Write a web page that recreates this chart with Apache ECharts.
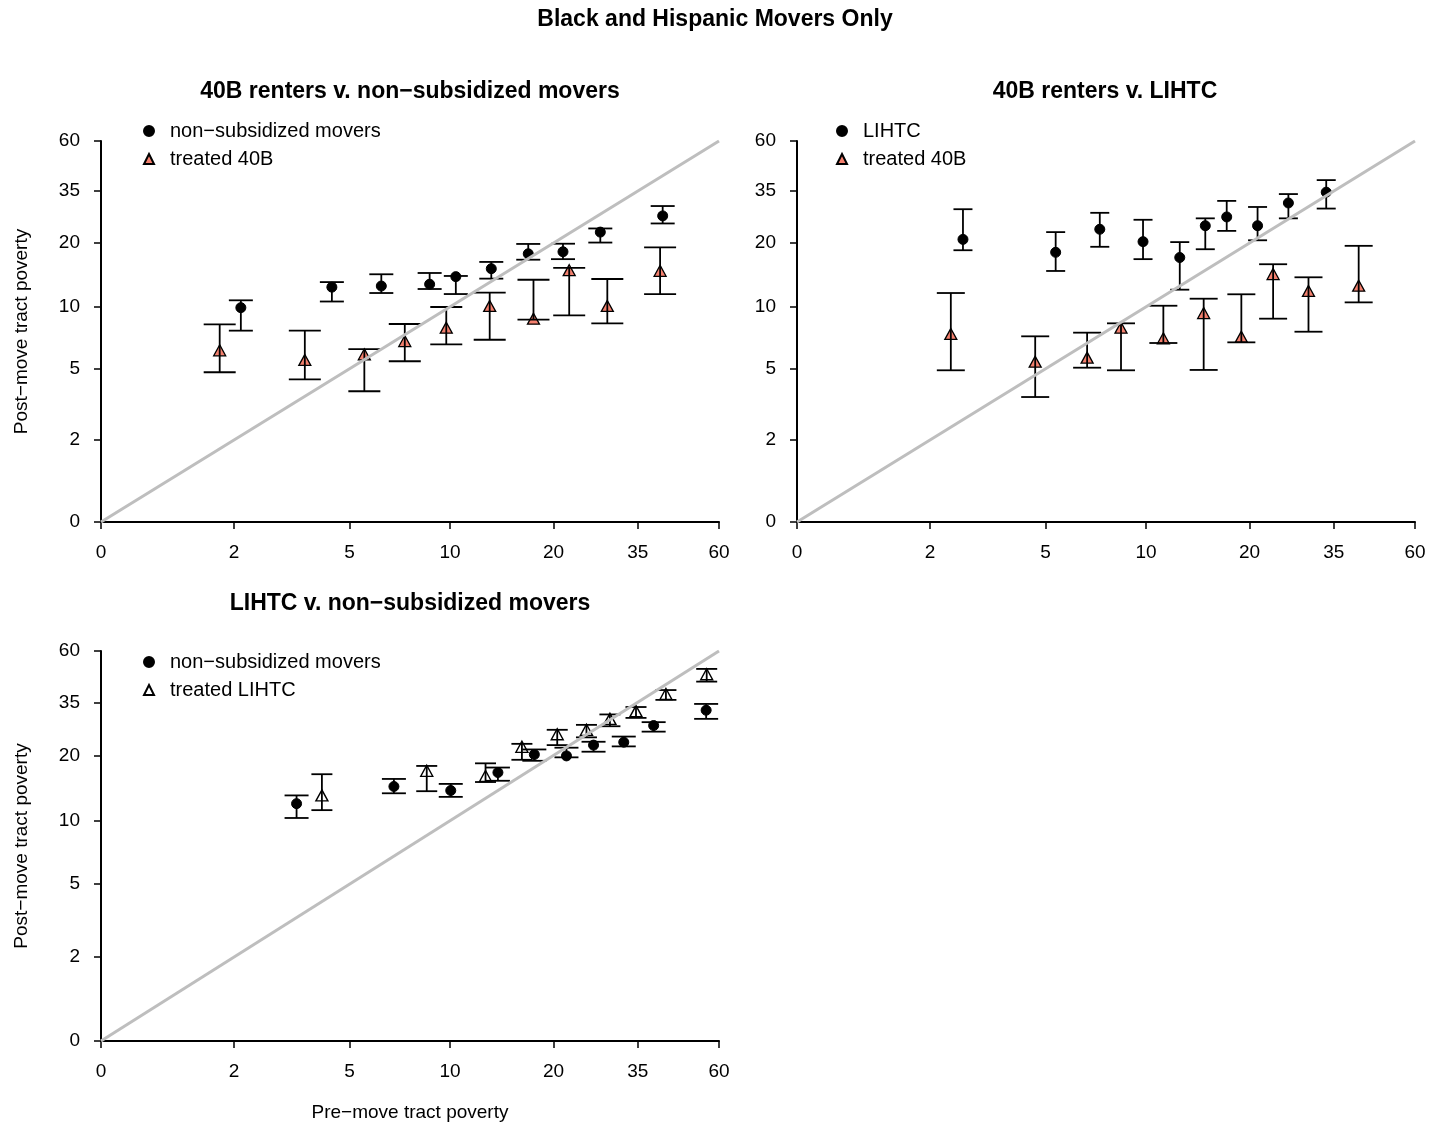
<!DOCTYPE html>
<html><head><meta charset="utf-8">
<script src="https://cdn.jsdelivr.net/npm/echarts@6/dist/echarts.min.js"></script>
<style>html,body{margin:0;padding:0;background:#fff}#c{width:1430px;height:1127px}</style>
</head><body><div id="c"></div>
<script>
// ---- tick labels (axis uses an asinh(x/2) scale) ----
const tickValues = [0, 2, 5, 10, 20, 35, 60];

// ---- Panel 1: 40B renters v. non-subsidized movers ----
const p1NonsubX  = [2.13, 4.40, 6.25, 8.71, 10.4, 13.2, 16.9, 21.3, 27.3, 41.3];
const p1NonsubY  = [9.91, 12.4, 12.55, 12.8, 13.9, 15.15, 17.8, 18.2, 22.5, 26.8];
const p1NonsubLo = [7.69, 10.6, 11.63, 12.15, 11.5, 13.6, 16.7, 16.8, 20.1, 24.7];
const p1NonsubHi = [10.74, 13.1, 14.26, 14.46, 14.0, 16.3, 19.8, 19.85, 23.4, 29.8];

const p1TreatX  = [1.74, 3.6, 5.55, 7.35, 9.75, 13.06, 17.5, 22.2, 28.6, 40.6];
const p1TreatY  = [6.17, 5.53, 5.9, 6.85, 7.95, 10.1, 8.78, 14.9, 10.1, 14.8];
const p1TreatLo = [4.80, 4.42, 3.83, 5.45, 6.60, 6.95, 8.68, 9.11, 8.34, 11.5];
const p1TreatHi = [8.25, 7.69, 6.26, 8.28, 9.98, 11.67, 13.44, 15.3, 13.55, 19.1];

// ---- Panel 2: 40B renters v. LIHTC ----
const p2LihtcX  = [2.67, 5.37, 7.30, 9.80, 12.55, 14.89, 17.18, 21.1, 25.9, 33.3];
const p2LihtcY  = [20.8, 18.09, 23.2, 20.3, 17.1, 24.1, 26.5, 24.1, 30.8, 34.6];
const p2LihtcLo = [18.5, 14.78, 19.2, 16.8, 12.06, 18.7, 22.8, 20.6, 26.1, 29.0];
const p2LihtcHi = [28.8, 22.5, 27.7, 25.7, 20.2, 26.1, 31.5, 29.5, 33.9, 39.4];

const p2TreatX  = [2.41, 4.64, 6.69, 8.44, 11.24, 14.73, 18.94, 23.4, 29.6, 41.3];
const p2TreatY  = [7.41, 5.42, 5.68, 7.95, 7.06, 9.34, 7.19, 14.3, 11.89, 12.6];
const p2TreatLo = [4.91, 3.57, 5.06, 4.91, 6.70, 4.93, 6.75, 8.78, 7.60, 10.5];
const p2TreatHi = [11.63, 7.22, 7.52, 8.34, 10.12, 10.93, 11.47, 15.9, 13.8, 19.4];

// ---- Panel 3: LIHTC v. non-subsidized movers ----
const p3NonsubX  = [3.38, 6.82, 10.05, 13.8, 17.6, 21.8, 26.1, 31.9, 38.9, 55.1];
const p3NonsubY  = [12.0, 14.4, 13.8, 16.7, 20.2, 19.9, 22.3, 23.0, 27.4, 32.2];
const p3NonsubLo = [10.3, 13.4, 12.9, 15.3, 18.9, 19.6, 20.8, 22.0, 25.7, 29.4];
const p3NonsubHi = [13.1, 15.6, 14.8, 17.6, 21.3, 21.7, 23.1, 24.4, 28.4, 34.4];

const p3TreatX  = [4.09, 8.54, 12.7, 16.2, 20.5, 24.9, 29.1, 34.6, 42.2, 55.3];
const p3TreatY  = [13.1, 17.0, 16.1, 21.9, 25.0, 26.2, 29.4, 31.9, 38.2, 47.0];
const p3TreatLo = [11.2, 13.7, 15.1, 19.1, 22.3, 24.2, 27.2, 29.7, 35.9, 43.5];
const p3TreatHi = [16.4, 17.9, 18.4, 22.6, 26.2, 27.6, 30.8, 33.3, 39.8, 49.7];

const diagEnds = [0, 60];

// ---- build ----
const T = v => Math.asinh(v / 2);
const tickPos = tickValues.map(T);
const fmt = v => { let best = 0; tickPos.forEach((p, i) => { if (Math.abs(p - v) < Math.abs(tickPos[best] - v)) best = i; }); return String(tickValues[best]); };
const FONT = '"Liberation Sans", Arial, Helvetica, sans-serif';

function pts(xs, ys) { return xs.map((x, i) => [T(x), T(ys[i])]); }
function errs(xs, lo, hi) { return xs.map((x, i) => [T(x), T(lo[i]), T(hi[i])]); }

function errRender(cap) {
  return function (params, api) {
    const x = api.value(0), lo = api.value(1), hi = api.value(2);
    const a = api.coord([x, lo]), b = api.coord([x, hi]);
    const h = cap / 2;
    const style = { stroke: '#000', lineWidth: 1.8 };
    return { type: 'group', children: [
      { type: 'line', shape: { x1: a[0], y1: a[1], x2: b[0], y2: b[1] }, style },
      { type: 'line', shape: { x1: a[0] - h, y1: a[1], x2: a[0] + h, y2: a[1] }, style },
      { type: 'line', shape: { x1: b[0] - h, y1: b[1], x2: b[0] + h, y2: b[1] }, style }
    ]};
  };
}

function axisCfg(gi, name, gap) {
  return {
    type: 'value', gridIndex: gi, min: 0, max: T(60),
    name: name || '', nameLocation: 'middle', nameGap: gap || 0,
    nameTextStyle: { fontFamily: FONT, fontSize: 19, color: '#000' },
    axisLine: { show: true, onZero: false, lineStyle: { color: '#000', width: 2 } },
    axisTick: { show: true, customValues: tickPos, length: 7, lineStyle: { color: '#000', width: 1.5 } },
    axisLabel: { show: true, customValues: tickPos, formatter: fmt, color: '#000', fontSize: 19, fontFamily: FONT, margin: 21 },
    splitLine: { show: false }
  };
}

const grids = [
  { left: 101, top: 141, width: 618, height: 381 },
  { left: 797, top: 141, width: 618, height: 381 },
  { left: 101, top: 651, width: 618, height: 390 }
];

const circleStyle = { color: '#000', borderColor: '#000', borderWidth: 1, opacity: 1 };
const triStyle = { color: '#F4806E', borderColor: '#000', borderWidth: 1.3, opacity: 1 };
const hollowStyle = { color: 'rgba(255,255,255,0)', borderColor: '#000', borderWidth: 1.4, opacity: 1 };

function panelSeries(gi, aName, aX, aY, aLo, aHi, aCap, aStyle, aSym, aSize,
                         bName, bX, bY, bLo, bHi, bCap, bStyle, bSym, bSize) {
  return [
    { type: 'scatter', name: aName, xAxisIndex: gi, yAxisIndex: gi, data: pts(aX, aY), symbol: aSym, symbolSize: aSize, itemStyle: aStyle, z: 3, silent: true },
    { type: 'scatter', name: bName, xAxisIndex: gi, yAxisIndex: gi, data: pts(bX, bY), symbol: bSym, symbolSize: bSize, itemStyle: bStyle, z: 3, silent: true },
    { type: 'custom', xAxisIndex: gi, yAxisIndex: gi, data: errs(aX, aLo, aHi), renderItem: errRender(aCap), encode: { x: 0, y: [1, 2] }, z: 4, silent: true },
    { type: 'custom', xAxisIndex: gi, yAxisIndex: gi, data: errs(bX, bLo, bHi), renderItem: errRender(bCap), encode: { x: 0, y: [1, 2] }, z: 4, silent: true },
    { type: 'line', xAxisIndex: gi, yAxisIndex: gi, data: diagEnds.map(v => [T(v), T(v)]), symbol: 'none', lineStyle: { color: '#BEBEBE', width: 3, opacity: 1 }, z: 5, silent: true }
  ];
}

const series = [].concat(
  panelSeries(0, 'non−subsidized movers', p1NonsubX, p1NonsubY, p1NonsubLo, p1NonsubHi, 24, circleStyle, 'circle', 10,
                 'treated 40B', p1TreatX, p1TreatY, p1TreatLo, p1TreatHi, 32, triStyle, 'triangle', [12, 11]),
  panelSeries(1, 'LIHTC', p2LihtcX, p2LihtcY, p2LihtcLo, p2LihtcHi, 19, circleStyle, 'circle', 10,
                 'treated 40B', p2TreatX, p2TreatY, p2TreatLo, p2TreatHi, 28, triStyle, 'triangle', [12, 11]),
  panelSeries(2, 'non−subsidized movers', p3NonsubX, p3NonsubY, p3NonsubLo, p3NonsubHi, 24, circleStyle, 'circle', 10,
                 'treated LIHTC', p3TreatX, p3TreatY, p3TreatLo, p3TreatHi, 21, hollowStyle, 'triangle', [12, 11])
);

function legendCfg(left, top, names) {
  return { orient: 'vertical', left, top, itemWidth: 10, itemHeight: 10, itemGap: 8, selectedMode: false,
    data: names, textStyle: { fontFamily: FONT, fontSize: 20, color: '#000', padding: [0, 0, 0, 11] } };
}

function txt(x, y, text, size, bold) {
  return { type: 'text', x, y, style: { text, fontFamily: FONT, fontSize: size, fontWeight: bold ? 'bold' : 'normal', fill: '#000', textAlign: 'center', textVerticalAlign: 'middle' } };
}

const option = {
  backgroundColor: '#fff',
  animation: false,
  grid: grids,
  xAxis: [axisCfg(0), axisCfg(1), axisCfg(2, 'Pre−move tract poverty', 62)],
  yAxis: [axisCfg(0, 'Post−move tract poverty', 70), axisCfg(1), axisCfg(2, 'Post−move tract poverty', 70)],
  legend: [
    legendCfg(143 - 5, 116, ['non−subsidized movers', 'treated 40B']),
    legendCfg(836 - 5, 116, ['LIHTC', 'treated 40B']),
    legendCfg(143 - 5, 647, ['non−subsidized movers', 'treated LIHTC'])
  ],
  graphic: [
    txt(715, 20, 'Black and Hispanic Movers Only', 23, true),
    txt(410, 92, '40B renters v. non−subsidized movers', 23, true),
    txt(1105, 92, '40B renters v. LIHTC', 23, true),
    txt(410, 604, 'LIHTC v. non−subsidized movers', 23, true)
  ],
  series
};

const chart = echarts.init(document.getElementById('c'), null, { renderer: 'canvas' });
chart.setOption(option);
</script></body></html>
